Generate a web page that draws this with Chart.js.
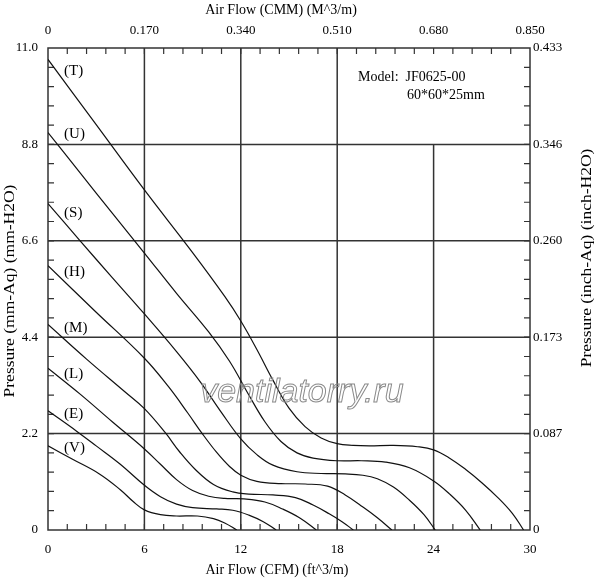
<!DOCTYPE html>
<html>
<head>
<meta charset="utf-8">
<script src="https://cdn.jsdelivr.net/npm/chart.js@4.4.0/dist/chart.umd.min.js"></script>
<style>
  html, body { margin: 0; padding: 0; background: #fff; }
  #wrap { width: 600px; height: 580px; }
</style>
</head>
<body>
<div id="wrap"><canvas id="grafico" width="600" height="580"></canvas></div>
<script>
// curve names as printed beside each curve
const curveNames = ['T', 'U', 'S', 'H', 'M', 'L', 'E', 'V'];

// air flow (CFM) and static pressure (mm-H2O)
const flowT = [0, 3, 6, 9, 11, 12, 13, 14, 15, 16, 17, 18, 19, 20, 21.5, 23, 24, 25, 26, 27, 28, 28.9, 29.6];
const presT = [10.74, 9.25, 7.76, 6.33, 5.33, 4.77, 4.12, 3.42, 2.78, 2.36, 2.1, 1.97, 1.93, 1.92, 1.93, 1.9, 1.83, 1.64, 1.38, 1.08, 0.74, 0.38, 0];

const flowU = [0, 2, 4, 6, 8, 10, 11.3, 12.5, 13.5, 14.5, 15.5, 16.5, 18, 19.5, 21, 22.5, 24, 25, 26, 26.9];
const presU = [9.07, 8.15, 7.23, 6.32, 5.4, 4.52, 3.85, 3.08, 2.47, 2.02, 1.76, 1.64, 1.58, 1.58, 1.55, 1.42, 1.12, 0.82, 0.45, 0];

const flowS = [0, 2, 4, 6, 8, 9.5, 10.8, 12, 13, 14, 15.5, 17, 18.5, 19.6, 20.5, 21.5, 22.5, 23.4, 24.1];
const presS = [7.45, 6.6, 5.76, 4.93, 4.07, 3.37, 2.68, 2.08, 1.72, 1.48, 1.33, 1.29, 1.28, 1.25, 1.17, 0.98, 0.68, 0.35, 0];

const flowH = [0, 3, 6, 7.5, 8.7, 9.6, 10.5, 11.3, 12, 13, 14.5, 16, 17.4, 18.5, 19.5, 20.5, 21.4];
const presH = [6.03, 4.97, 3.92, 3.27, 2.67, 2.2, 1.77, 1.45, 1.25, 1.11, 1.06, 1.05, 1.0, 0.8, 0.55, 0.28, 0];

const flowM = [0, 2.4, 4.8, 6, 7.3, 8.2, 9.2, 10.3, 11.5, 12.5, 14, 15.4, 16.5, 17.5, 18.3, 19];
const presM = [4.69, 3.9, 3.15, 2.77, 2.22, 1.78, 1.37, 1.04, 0.87, 0.82, 0.8, 0.74, 0.57, 0.37, 0.19, 0];

const flowL = [0, 2, 4, 6, 7, 8, 9, 10, 11, 12.2, 13.5, 14.6, 15.7, 16.7];
const presL = [3.69, 3.1, 2.47, 1.85, 1.5, 1.15, 0.9, 0.77, 0.72, 0.71, 0.64, 0.48, 0.27, 0];

const flowE = [0, 1.8, 3, 4.5, 6, 7, 8, 9, 10.5, 11.5, 12.5, 13.4, 14.2];
const presE = [2.72, 2.25, 1.92, 1.5, 1.02, 0.76, 0.59, 0.51, 0.48, 0.45, 0.34, 0.19, 0];

const flowV = [0, 1.5, 3.2, 4.5, 5.3, 6, 7, 8, 9.3, 10.3, 11, 11.75];
const presV = [1.92, 1.62, 1.28, 0.92, 0.65, 0.46, 0.35, 0.32, 0.32, 0.26, 0.16, 0];

// where the (T), (U) ... tags sit
const tagFlow = 1.0;
const tagPressure = [10.47, 9.04, 7.23, 5.88, 4.6, 3.57, 2.65, 1.88];

// axis ticks
const cfmTicks = [0, 6, 12, 18, 24, 30];
const cmmLabels = ['0', '0.170', '0.340', '0.510', '0.680', '0.850'];
const mmTicks = [0, 2.2, 4.4, 6.6, 8.8, 11.0];
const mmLabels = ['0', '2.2', '4.4', '6.6', '8.8', '11.0'];
const inchLabels = ['0', '0.087', '0.173', '0.260', '0.346', '0.433'];

const flows = [flowT, flowU, flowS, flowH, flowM, flowL, flowE, flowV];
const pressures = [presT, presU, presS, presH, presM, presL, presE, presV];

const serif = '"Liberation Serif", "Times New Roman", serif';
const tickFont = { family: serif, size: 13 };

const curva = (name, i) => ({
    label: name,
    data: flows[i].map((f, k) => ({ x: f, y: pressures[i][k] })),
    showLine: true,
    borderColor: '#111',
    borderWidth: 1.2,
    pointRadius: 0,
    tension: 0.4,
    xAxisID: 'x',
    yAxisID: 'y'
});

const fijarTicks = (valores) => (scale) => {
    scale.ticks = valores.map(v => ({ value: v }));
};

// text drawn along a rotated axis, a bit stretched like the original
const textoVertical = (ctx, texto, cx, cy) => {
    ctx.save();
    ctx.translate(cx, cy);
    ctx.rotate(-Math.PI / 2);
    ctx.scale(1.25, 1);
    ctx.fillText(texto, 0, 0);
    ctx.restore();
};

const marcas = {
    id: 'marcas',
    beforeDatasetsDraw(chart) {
        const { ctx, chartArea: a, scales: { x, y } } = chart;
        ctx.save();
        ctx.strokeStyle = '#333';
        ctx.lineWidth = 1.5;
        ctx.beginPath();
        [6, 12, 18].forEach(v => {
            const px = x.getPixelForValue(v);
            ctx.moveTo(px, a.top);
            ctx.lineTo(px, a.bottom);
        });
        // the 24 CFM line stops at 8.8
        const p24 = x.getPixelForValue(24);
        ctx.moveTo(p24, y.getPixelForValue(8.8));
        ctx.lineTo(p24, a.bottom);
        [2.2, 4.4, 6.6, 8.8].forEach(v => {
            const py = y.getPixelForValue(v);
            ctx.moveTo(a.left, py);
            ctx.lineTo(a.right, py);
        });
        ctx.stroke();
        ctx.strokeRect(a.left, a.top, a.right - a.left, a.bottom - a.top);

        // small inner ticks
        ctx.lineWidth = 1.2;
        ctx.beginPath();
        for (let i = 1; i < 25; i++) {
            const px = x.getPixelForValue(i * 1.2);
            ctx.moveTo(px, a.top);
            ctx.lineTo(px, a.top + 6);
            ctx.moveTo(px, a.bottom);
            ctx.lineTo(px, a.bottom - 6);
            const py = y.getPixelForValue(i * 0.44);
            ctx.moveTo(a.left, py);
            ctx.lineTo(a.left + 6, py);
            ctx.moveTo(a.right, py);
            ctx.lineTo(a.right - 6, py);
        }
        ctx.stroke();
        ctx.restore();
    },
    afterDatasetsDraw(chart) {
        const { ctx, chartArea: a, scales: { x, y } } = chart;
        ctx.save();
        ctx.fillStyle = '#000';
        ctx.textBaseline = 'middle';
        ctx.textAlign = 'left';
        ctx.font = '15px ' + serif;
        curveNames.forEach((n, i) => {
            ctx.fillText('(' + n + ')', x.getPixelForValue(tagFlow), y.getPixelForValue(tagPressure[i]));
        });

        ctx.font = '14px ' + serif;
        ctx.fillText('Model:  JF0625-00', x.getPixelForValue(19.3), y.getPixelForValue(10.34));
        ctx.fillText('60*60*25mm', x.getPixelForValue(22.35), y.getPixelForValue(9.93));

        // watermark
        ctx.font = 'italic 34px "Liberation Sans", Arial, sans-serif';
        ctx.textAlign = 'center';
        ctx.strokeStyle = '#8a8a8a';
        ctx.lineWidth = 1;
        ctx.strokeText('ventilatorry.ru', x.getPixelForValue(15.8), y.getPixelForValue(3.14));

        // axis titles
        ctx.fillStyle = '#000';
        ctx.font = '14px ' + serif;
        const medio = (a.left + a.right) / 2;
        ctx.fillText('Air Flow (CMM) (M^3/m)', medio - 8, a.top - 38);
        ctx.fillText('Air Flow (CFM) (ft^3/m)', medio - 12, a.bottom + 40);
        textoVertical(ctx, 'Pressure (mm-Aq) (mm-H2O)', a.left - 38, (a.top + a.bottom) / 2 + 2);
        textoVertical(ctx, 'Pressure (inch-Aq) (inch-H2O)', a.right + 57, (a.top + a.bottom) / 2 - 31);
        ctx.restore();
    }
};

new Chart(document.getElementById('grafico'), {
    type: 'scatter',
    data: {
        datasets: curveNames.map(curva)
    },
    options: {
        responsive: false,
        animation: false,
        layout: { padding: 0 },
        plugins: {
            legend: { display: false },
            tooltip: { enabled: false }
        },
        scales: {
            x: {
                type: 'linear',
                position: 'bottom',
                min: 0,
                max: 30,
                afterBuildTicks: fijarTicks(cfmTicks),
                afterFit: (s) => { s.height = 50; },
                grid: { display: false, drawTicks: false },
                border: { display: false },
                ticks: { padding: 12, color: '#000', font: tickFont, maxRotation: 0, callback: (v) => String(v) }
            },
            x2: {
                type: 'linear',
                position: 'top',
                min: 0,
                max: 30,
                afterBuildTicks: fijarTicks(cfmTicks),
                afterFit: (s) => { s.height = 48; },
                grid: { display: false, drawTicks: false },
                border: { display: false },
                ticks: { padding: 10, color: '#000', font: tickFont, maxRotation: 0, callback: (v, i) => cmmLabels[i] }
            },
            y: {
                type: 'linear',
                position: 'left',
                min: 0,
                max: 11,
                afterBuildTicks: fijarTicks(mmTicks),
                afterFit: (s) => { s.width = 48; },
                grid: { display: false, drawTicks: false },
                border: { display: false },
                ticks: { padding: 10, color: '#000', font: tickFont, callback: (v, i) => mmLabels[i] }
            },
            y2: {
                type: 'linear',
                position: 'right',
                min: 0,
                max: 11,
                afterBuildTicks: fijarTicks(mmTicks),
                afterFit: (s) => { s.width = 70; },
                grid: { display: false, drawTicks: false },
                border: { display: false },
                ticks: { padding: 3, color: '#000', font: tickFont, callback: (v, i) => inchLabels[i] }
            }
        }
    },
    plugins: [marcas]
});
</script>
</body>
</html>
